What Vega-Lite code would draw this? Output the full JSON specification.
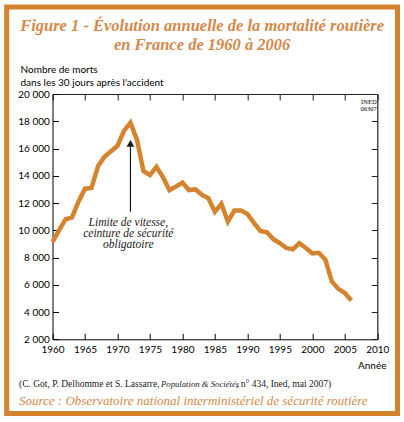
{
  "$schema": "https://vega.github.io/schema/vega-lite/v6.json",
  "autosize": {"type": "none"},
  "width": 390.8,
  "height": 406.5,
  "padding": {"left": 6.7, "top": 7, "right": 6.5, "bottom": 8.5},
  "background": "white",
  "title": {
    "text": ["Figure 1 - Évolution annuelle de la mortalité routière", "en France de 1960 à 2006"],
    "font": "Liberation Serif",
    "fontStyle": "italic",
    "fontWeight": "bold",
    "fontSize": 16.5,
    "lineHeight": 18.5,
    "color": "#D4884A",
    "anchor": "middle",
    "frame": "group",
    "baseline": "alphabetic",
    "offset": -59
  },
  "config": {
    "view": {"stroke": "#D4822E", "strokeWidth": 5, "fill": "white"},
    "axis": {
      "grid": false,
      "domainColor": "black",
      "domainWidth": 1,
      "tickColor": "black",
      "tickWidth": 1,
      "tickSize": -6,
      "labelFlush": false,
      "labelFont": "Lato",
      "labelFontSize": 10,
      "labelColor": "black",
      "titleFont": "Lato",
      "titleFontWeight": "normal",
      "titleFontSize": 10,
      "titleColor": "black"
    }
  },
  "datasets": {
    "deaths": [
      {"year": 1960, "deaths": 9150},
      {"year": 1961, "deaths": 10000},
      {"year": 1962, "deaths": 10800},
      {"year": 1963, "deaths": 10950},
      {"year": 1964, "deaths": 12100},
      {"year": 1965, "deaths": 13050},
      {"year": 1966, "deaths": 13100},
      {"year": 1967, "deaths": 14700},
      {"year": 1968, "deaths": 15400},
      {"year": 1969, "deaths": 15800},
      {"year": 1970, "deaths": 16200},
      {"year": 1971, "deaths": 17300},
      {"year": 1972, "deaths": 17900},
      {"year": 1973, "deaths": 16650},
      {"year": 1974, "deaths": 14350},
      {"year": 1975, "deaths": 14050},
      {"year": 1976, "deaths": 14650},
      {"year": 1977, "deaths": 13900},
      {"year": 1978, "deaths": 12950},
      {"year": 1979, "deaths": 13200},
      {"year": 1980, "deaths": 13500},
      {"year": 1981, "deaths": 12950},
      {"year": 1982, "deaths": 13000},
      {"year": 1983, "deaths": 12600},
      {"year": 1984, "deaths": 12350},
      {"year": 1985, "deaths": 11350},
      {"year": 1986, "deaths": 11950},
      {"year": 1987, "deaths": 10650},
      {"year": 1988, "deaths": 11450},
      {"year": 1989, "deaths": 11450},
      {"year": 1990, "deaths": 11200},
      {"year": 1991, "deaths": 10550},
      {"year": 1992, "deaths": 9950},
      {"year": 1993, "deaths": 9850},
      {"year": 1994, "deaths": 9350},
      {"year": 1995, "deaths": 9050},
      {"year": 1996, "deaths": 8700},
      {"year": 1997, "deaths": 8600},
      {"year": 1998, "deaths": 9050},
      {"year": 1999, "deaths": 8700},
      {"year": 2000, "deaths": 8300},
      {"year": 2001, "deaths": 8350},
      {"year": 2002, "deaths": 7850},
      {"year": 2003, "deaths": 6250},
      {"year": 2004, "deaths": 5700},
      {"year": 2005, "deaths": 5400},
      {"year": 2006, "deaths": 4850}
    ]
  },
  "layer": [
    {
      "data": {"name": "deaths"},
      "mark": {"type": "line", "color": "#D4832F", "strokeWidth": 4.5, "strokeJoin": "miter"},
      "encoding": {
        "x": {
          "field": "year",
          "type": "quantitative",
          "scale": {"domain": [1960, 2010], "range": [45.8, 370.6], "nice": false, "zero": false},
          "axis": {
            "orient": "bottom",
            "offset": -74.2,
            "values": [1960, 1965, 1970, 1975, 1980, 1985, 1990, 1995, 2000, 2005, 2010],
            "format": "d",
            "labelPadding": 11.4,
            "title": "Année",
            "titleAlign": "right",
            "titleBaseline": "alphabetic",
            "titleX": 379.3,
            "titleY": 29.2
          }
        },
        "y": {
          "field": "deaths",
          "type": "quantitative",
          "scale": {"domain": [2000, 20000], "range": [332.3, 87], "nice": false, "zero": false},
          "axis": {
            "orient": "left",
            "offset": -45.8,
            "values": [2000, 4000, 6000, 8000, 10000, 12000, 14000, 16000, 18000, 20000],
            "labelExpr": "replace(format(datum.value, ',d'), ',', ' ')",
            "labelPadding": 9.2,
            "title": ["Nombre de morts", "dans les 30 jours après l'accident"],
            "titleAngle": 0,
            "titleAlign": "left",
            "titleBaseline": "alphabetic",
            "titleX": -32.5,
            "titleY": 65,
            "titleLineHeight": 13
          }
        }
      }
    },
    {
      "data": {"values": [{"year": 1972, "from": 11363, "to": 16200}]},
      "mark": {"type": "rule", "color": "#1a1a1a", "strokeWidth": 1.2},
      "encoding": {
        "x": {
          "field": "year",
          "type": "quantitative",
          "axis": {"orient": "top", "offset": -87, "labels": true, "labelOpacity": 0, "title": null,
                   "domainColor": "#222222", "tickColor": "#222222", "domainWidth": 1.2,
                   "values": [1960, 1965, 1970, 1975, 1980, 1985, 1990, 1995, 2000, 2005, 2010]}
        },
        "y": {
          "field": "from",
          "type": "quantitative",
          "axis": {"orient": "right", "offset": -20.2, "labels": true, "labelOpacity": 0, "title": null,
                   "domainColor": "#222222", "tickColor": "#222222", "domainWidth": 1.2,
                   "values": [2000, 4000, 6000, 8000, 10000, 12000, 14000, 16000, 18000, 20000]}
        },
        "y2": {"field": "to"}
      }
    },
    {
      "data": {"values": [{"year": 1972, "value": 16370}]},
      "mark": {"type": "point", "shape": "triangle-up", "filled": true, "size": 60, "color": "#1a1a1a", "opacity": 1},
      "encoding": {
        "x": {"field": "year", "type": "quantitative", "axis": null},
        "y": {"field": "value", "type": "quantitative", "axis": null}
      }
    },
    {
      "data": {"values": [{"year": 1971.67, "value": 10350, "label": "Limite de vitesse,\nceinture de sécurité\nobligatoire"}]},
      "mark": {"type": "text", "lineBreak": "\n", "font": "Liberation Serif", "fontStyle": "italic", "fontSize": 11.5, "lineHeight": 11.3, "align": "center", "baseline": "alphabetic", "color": "#1a1a1a"},
      "encoding": {
        "x": {"field": "year", "type": "quantitative", "axis": null},
        "y": {"field": "value", "type": "quantitative", "axis": null},
        "text": {"field": "label"}
      }
    },
    {
      "data": {"values": [{"year": 2009.9, "value": 19266, "label": "INED\n06307"}]},
      "mark": {"type": "text", "lineBreak": "\n", "font": "Liberation Sans Narrow", "fontSize": 6.5, "lineHeight": 7, "align": "right", "baseline": "alphabetic", "color": "black"},
      "encoding": {
        "x": {"field": "year", "type": "quantitative", "axis": null},
        "y": {"field": "value", "type": "quantitative", "axis": null},
        "text": {"field": "label"}
      }
    },
    {
      "data": {"values": [
        {"year": 1954.84, "value": -1478, "label": "(C. Got, P. Delhomme et S. Lassarre,"},
        {"year": 1988.25, "value": -1478, "label": ", n° 434, Ined, mai 2007)"}
      ]},
      "mark": {"type": "text", "font": "Liberation Serif", "fontSize": 9.5, "align": "left", "baseline": "alphabetic", "color": "#1a1a1a"},
      "encoding": {
        "x": {"field": "year", "type": "quantitative", "axis": null},
        "y": {"field": "value", "type": "quantitative", "axis": null},
        "text": {"field": "label"}
      }
    },
    {
      "data": {"values": [{"year": 1976.7, "value": -1478, "label": "Population & Sociétés"}]},
      "mark": {"type": "text", "font": "Liberation Serif", "fontStyle": "italic", "fontSize": 8.7, "align": "left", "baseline": "alphabetic", "color": "#1a1a1a"},
      "encoding": {
        "x": {"field": "year", "type": "quantitative", "axis": null},
        "y": {"field": "value", "type": "quantitative", "axis": null},
        "text": {"field": "label"}
      }
    },
    {
      "data": {"values": [{"year": 1954.84, "value": -2821, "label": "Source : Observatoire national interministériel de sécurité routière"}]},
      "mark": {"type": "text", "font": "Liberation Serif", "fontStyle": "italic", "fontSize": 13, "align": "left", "baseline": "alphabetic", "color": "#D4884A"},
      "encoding": {
        "x": {"field": "year", "type": "quantitative", "axis": null},
        "y": {"field": "value", "type": "quantitative", "axis": null},
        "text": {"field": "label"}
      }
    }
  ],
  "resolve": {"axis": {"x": "independent", "y": "independent"}}
}
